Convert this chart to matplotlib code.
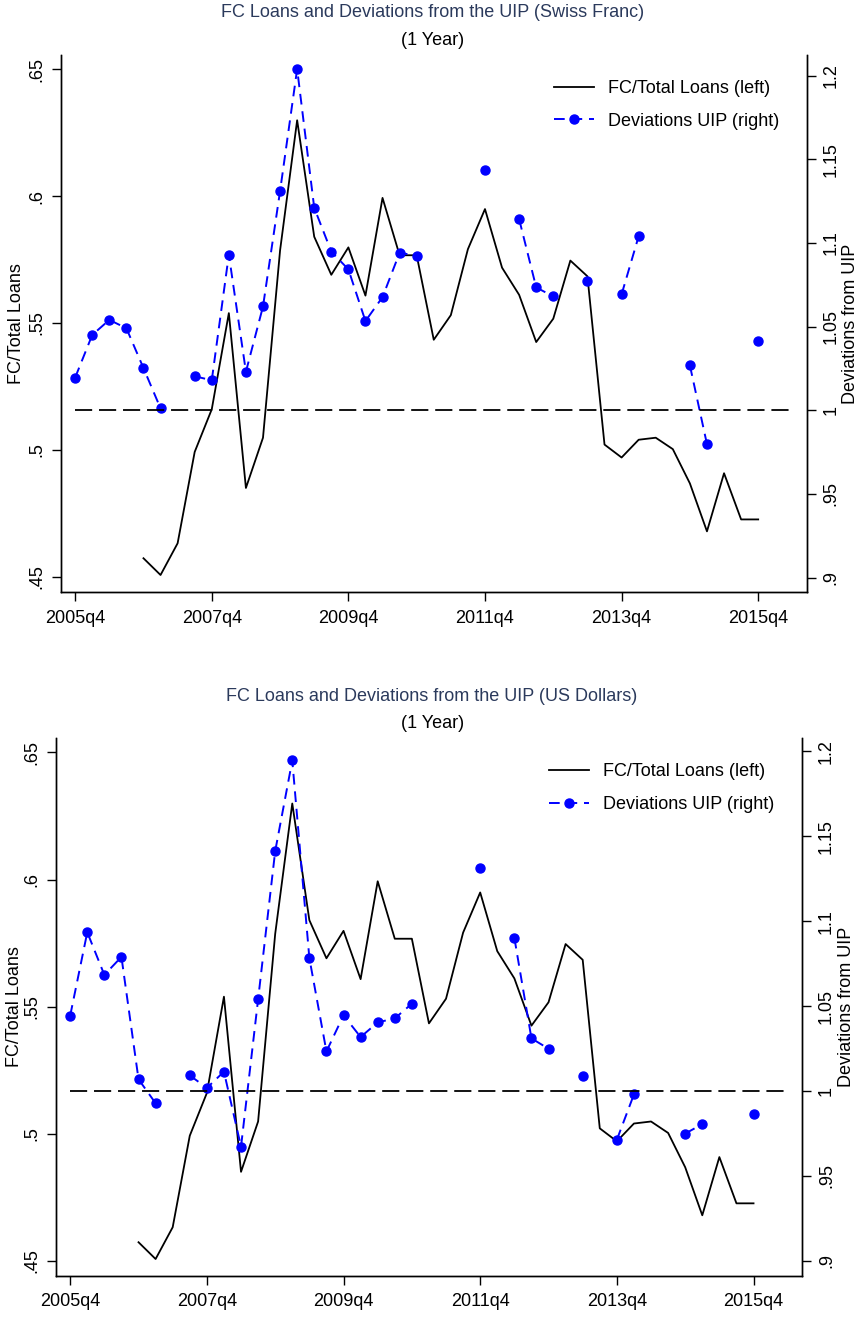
import numpy as np
import pandas as pd
import matplotlib
matplotlib.use("Agg")
import matplotlib.pyplot as plt

plt.rcParams['font.family'] = ['Liberation Sans', 'DejaVu Sans']

# quarterly dates 2005q4 .. 2015q4
quarters = pd.period_range('2005Q4', '2015Q4', freq='Q')
qlabels = [f"{p.year}q{p.quarter}" for p in quarters]

nan = np.nan
# FC/Total loans (left axis), same in both panels
fc_loans = [nan, nan, nan, nan, 0.4573, 0.4507, 0.4632, 0.4992, 0.5160, 0.5539,
            0.4850, 0.5048, 0.5786, 0.6299, 0.5840, 0.5690, 0.5798, 0.5608, 0.5993, 0.5767,
            0.5767, 0.5434, 0.5531, 0.5791, 0.5949, 0.5718, 0.5611, 0.5425, 0.5517, 0.5746,
            0.5684, 0.5021, 0.4970, 0.5040, 0.5048, 0.5003, 0.4868, 0.4679, 0.4908, 0.4726,
            0.4726]

# deviations from UIP (right axis)
uip_chf = [1.0195, 1.0450, 1.0540, 1.0490, 1.0252, 1.0011, nan, 1.0203, 1.0179, 1.0930,
           1.0230, 1.0620, 1.1310, 1.2039, 1.1210, 1.0948, 1.0842, 1.0533, 1.0676, 1.0941,
           1.0924, nan, nan, nan, 1.1436, nan, 1.1142, 1.0734, 1.0680, nan,
           1.0775, nan, 1.0692, 1.1040, nan, nan, 1.0268, 0.9797, nan, nan,
           1.0411]
uip_usd = [1.0444, 1.0935, 1.0684, 1.0790, 1.0069, 0.9928, nan, 1.0092, 1.0018, 1.0114,
           0.9672, 1.0540, 1.1413, 1.1947, 1.0783, 1.0233, 1.0446, 1.0318, 1.0404, 1.0428,
           1.0514, nan, nan, nan, 1.1314, nan, 1.0902, 1.0310, 1.0249, nan,
           1.0090, nan, 0.9713, 0.9980, nan, nan, 0.9749, 0.9805, nan, nan,
           0.9865]

# title, series, axes rect, left ylim, right ylim, title y, subtitle y, left labelpad
panels = [
    ("FC Loans and Deviations from the UIP (Swiss Franc)", uip_chf,
     [0.0710, 0.5503, 0.8681, 0.4083], (0.4439, 0.6558), (0.8912, 1.2126), 0.9904, 0.9691, 2),
    ("FC Loans and Deviations from the UIP (US Dollars)", uip_usd,
     [0.0652, 0.0311, 0.8685, 0.4086], (0.4440, 0.6557), (0.8910, 1.2080), 0.4710, 0.4510, 0),
]

title_color = '#2b3a5c'
fs = 13

fig = plt.figure(figsize=(8.59, 13.17), dpi=100)
x = np.arange(len(quarters))

for title, uip, rect, ylim1, ylim2, ty, sty, lpad in panels:
    ax = fig.add_axes(rect)
    ax2 = ax.twinx()

    l1, = ax.plot(x, fc_loans, color='black', lw=1.3, label='FC/Total Loans (left)')
    l2, = ax2.plot(x, uip, color='#0000ff', lw=1.4, ls=(0, (5.5, 3.5)), marker='o',
                   markersize=6.5, label='Deviations UIP (right)')
    ax2.hlines(1.0, 0, 42, colors='black', lw=1.3, linestyles=(0, (9.5, 3.8)))

    ax.set_xlim(-0.83, 42.84)
    ax.set_ylim(*ylim1)
    ax2.set_ylim(*ylim2)

    ax.set_xticks(x[::8])
    ax.set_xticklabels(qlabels[::8], fontsize=fs)
    ax.set_yticks([0.45, 0.5, 0.55, 0.6, 0.65])
    ax.set_yticklabels(['.45', '.5', '.55', '.6', '.65'], fontsize=fs,
                       rotation=90, va='center')
    ax2.set_yticks([0.9, 0.95, 1.0, 1.05, 1.1, 1.15, 1.2])
    ax2.set_yticklabels(['.9', '.95', '1', '1.05', '1.1', '1.15', '1.2'], fontsize=fs,
                        rotation=90, va='center')

    for a in (ax, ax2):
        a.spines['top'].set_visible(False)
        a.tick_params(direction='out', length=6.5, width=1, pad=5)
        for s in ('left', 'right', 'bottom'):
            a.spines[s].set_linewidth(1.0)
    ax.tick_params(axis='x', pad=6)

    ax.set_ylabel('FC/Total Loans', fontsize=fs, labelpad=lpad)
    ax2.set_ylabel('Deviations from UIP', fontsize=fs, labelpad=2)

    fig.text(0.503, ty, title, ha='center', va='center', fontsize=fs, color=title_color)
    fig.text(0.503, sty, '(1 Year)', ha='center', va='center', fontsize=fs, color='black')

    ax2.legend(handles=[l1, l2], loc='upper right', bbox_to_anchor=(0.985, 0.983),
               frameon=False, fontsize=fs, handlelength=2.2, handletextpad=0.8,
               labelspacing=0.87)

fig.savefig('out.png', dpi=100)
